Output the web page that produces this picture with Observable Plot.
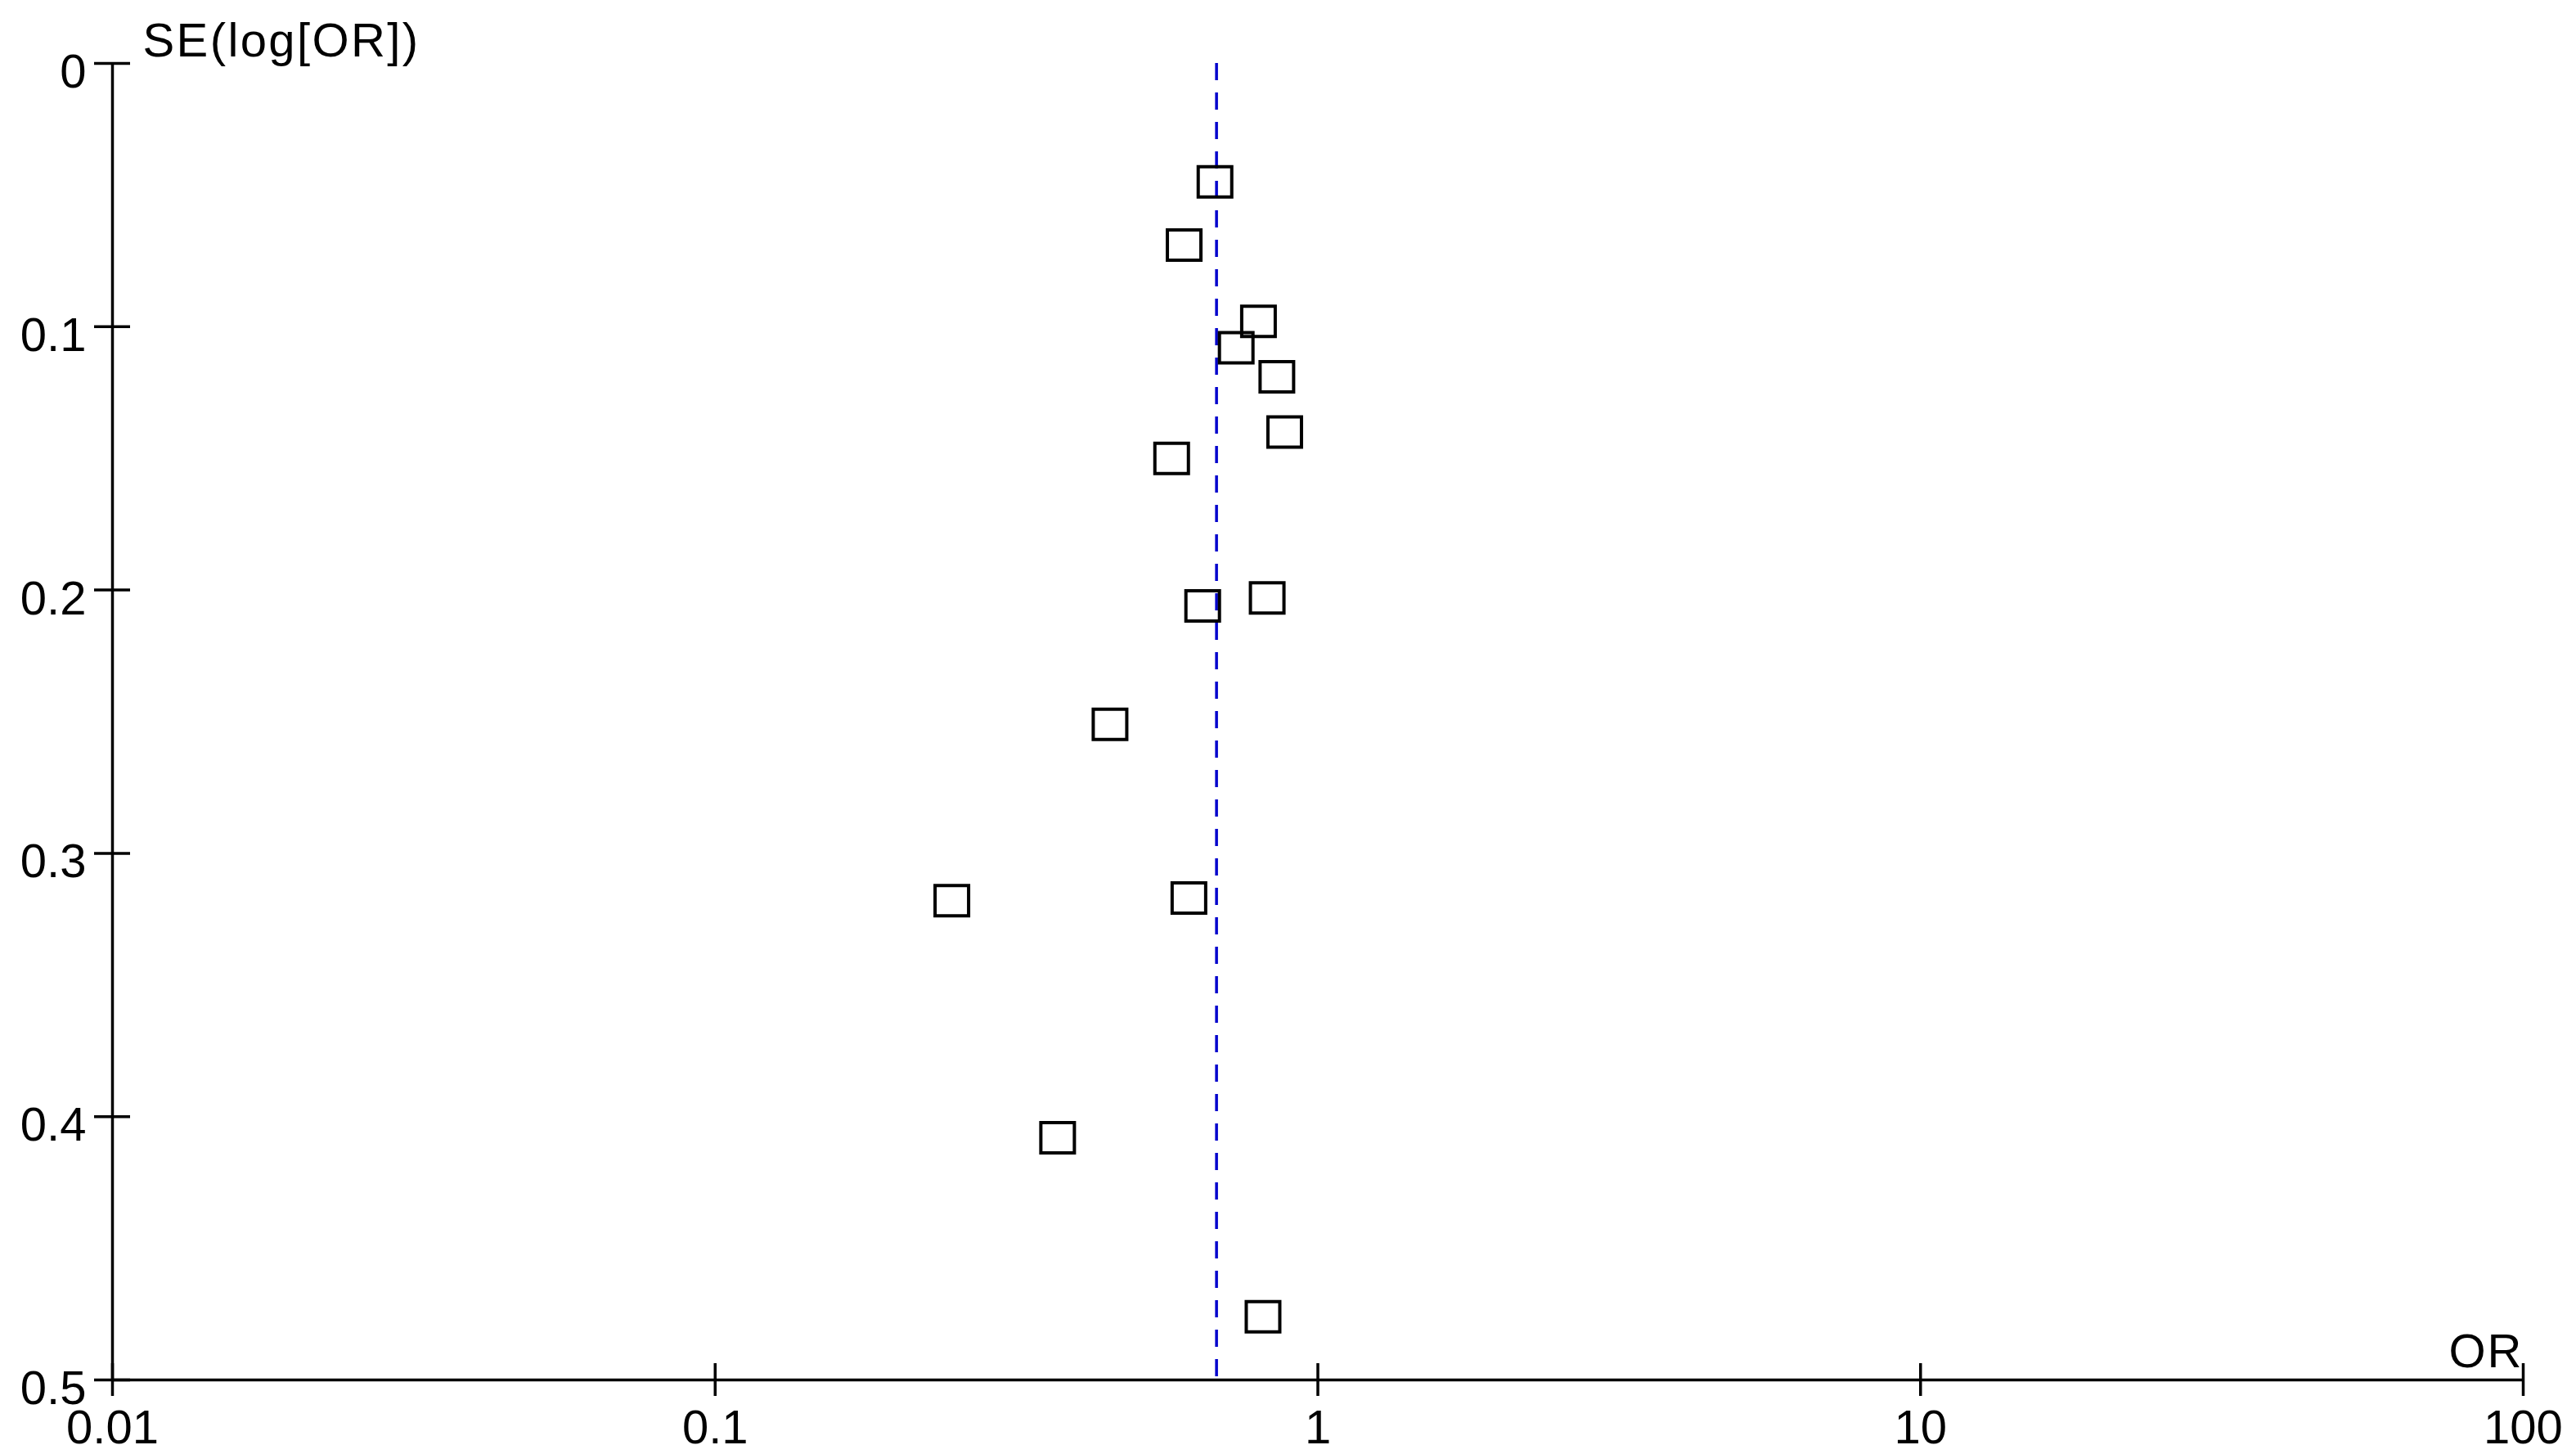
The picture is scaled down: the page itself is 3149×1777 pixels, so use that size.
<!DOCTYPE html>
<html>
<head>
<meta charset="utf-8">
<script src="https://cdn.jsdelivr.net/npm/d3@7"></script>
<script src="https://cdn.jsdelivr.net/npm/@observablehq/plot@0.6"></script>
<style>
html, body { margin: 0; padding: 0; background: #fff; }
svg text { font-family: "Liberation Sans", Arial, sans-serif; }
</style>
</head>
<body>
<div id="chart"></div>
<script>
// Study odds ratios and standard errors
const orValues = [0.675, 0.600, 0.797, 0.732, 0.855, 0.881, 0.572, 0.644, 0.824, 0.452, 0.247, 0.611, 0.370, 0.811];
const seValues = [0.045, 0.069, 0.098, 0.108, 0.119, 0.140, 0.150, 0.206, 0.203, 0.251, 0.318, 0.317, 0.408, 0.476];
const pooledOR = [0.679];
const xTicks = [0.01, 0.1, 1, 10, 100];
const xTickLabels = ["0.01", "0.1", "1", "10", "100"];
const yTicks = [0, 0.1, 0.2, 0.3, 0.4, 0.5];
const yTickLabels = ["0", "0.1", "0.2", "0.3", "0.4", "0.5"];
const xLabel = "OR";
const yLabel = "SE(log[OR])";

const studies = orValues.map((or, i) => ({or, se: seValues[i]}));

// open rectangle symbol, slightly wider than tall
const box = { draw(ctx) { ctx.rect(-20.5, -18.5, 41, 37); } };

const plot = Plot.plot({
  width: 3149,
  height: 1777,
  marginLeft: 137,
  marginRight: 65,
  marginTop: 77,
  marginBottom: 91,
  style: { fontSize: "58px", fontFamily: "Liberation Sans, Arial, sans-serif", color: "#000", background: "#fff", overflow: "visible" },
  x: { type: "log", domain: [0.01, 100] },
  y: { domain: [0, 0.5], reverse: true },
  marks: [
    Plot.ruleX(pooledOR, { stroke: "#0000cc", strokeWidth: 3.5, strokeDasharray: "21,15" }),
    Plot.ruleX([0.01], { stroke: "#000", strokeWidth: 3.5 }),
    Plot.ruleY([0.5], { stroke: "#000", strokeWidth: 3.5 }),
    Plot.axisX({ ticks: xTicks, tickSize: 40, dy: -20, fill: "none", strokeWidth: 3.5, label: null }),
    Plot.axisY({ ticks: yTicks, tickSize: 44, dx: 22, fill: "none", strokeWidth: 3.5, label: null }),
    Plot.axisX({ ticks: xTicks, tickFormat: d => xTickLabels[xTicks.indexOf(d)], tickSize: 0, tickPadding: 36, label: null, fill: "#000" }),
    Plot.axisY({ ticks: yTicks, tickFormat: d => yTickLabels[yTicks.indexOf(d)], tickSize: 0, tickPadding: 32, dy: 11, label: null, fill: "#000" }),
    Plot.dot(studies, { x: "or", y: "se", symbol: box, r: 20, stroke: "#000", strokeWidth: 4, fill: "none" }),
    Plot.text([yLabel], { frameAnchor: "top-left", dx: 37, dy: -9, lineAnchor: "bottom", textAnchor: "start", fill: "#000" }),
    Plot.text([xLabel], { frameAnchor: "bottom-right", dx: 0, dy: -16, lineAnchor: "bottom", textAnchor: "end", fill: "#000" })
  ]
});

d3.select(plot).selectAll("text").filter(function() { return this.textContent === yLabel; })
  .attr("letter-spacing", "2.4px");
d3.select(plot).selectAll("text").filter(function() { return this.textContent === xLabel; })
  .attr("letter-spacing", "2px");

document.getElementById("chart").appendChild(plot);
</script>
</body>
</html>
